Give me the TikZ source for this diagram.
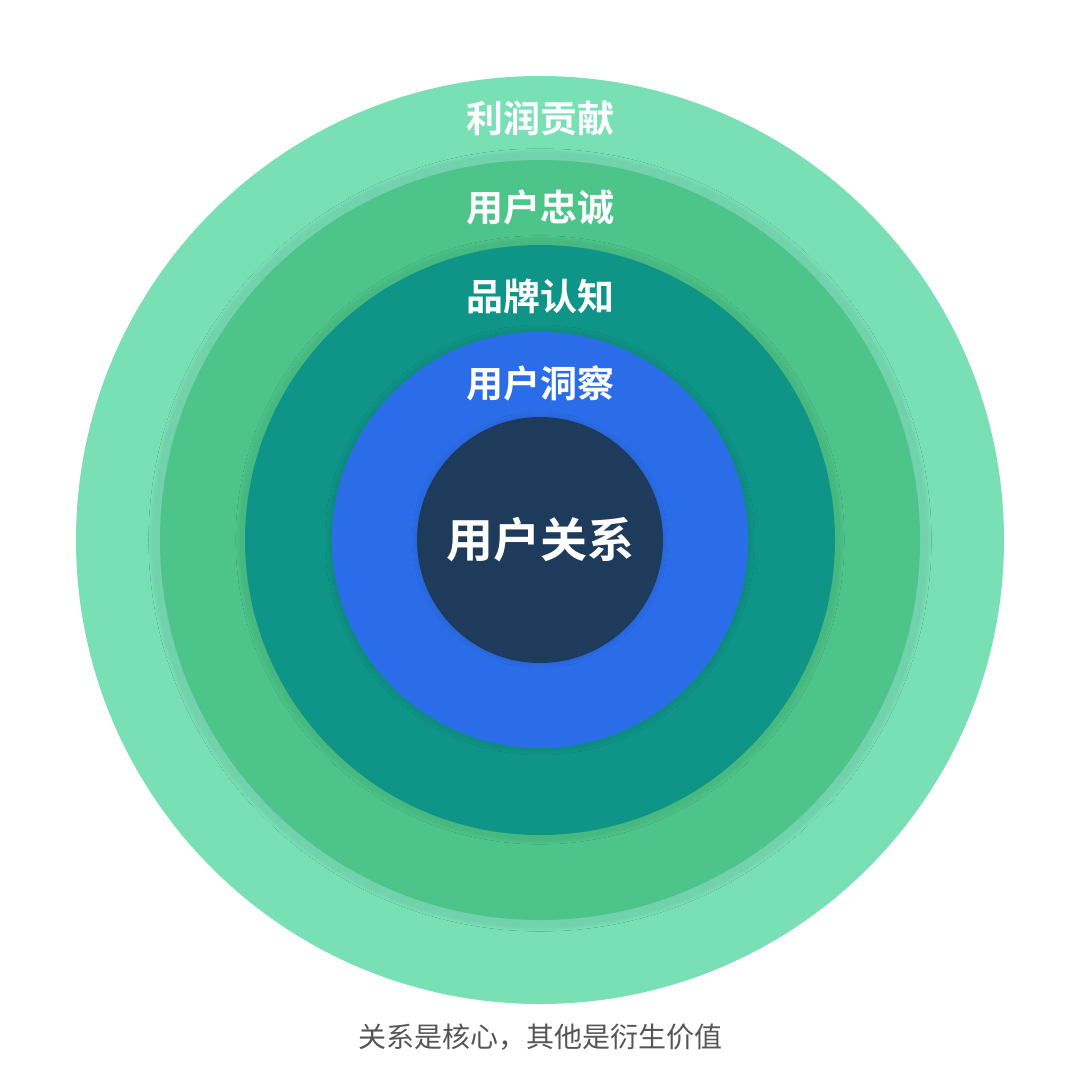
\documentclass[tikz,border=0pt]{standalone}
\usepackage{fontspec}
\newfontfamily\cjk{Noto Sans CJK SC}
\newfontfamily\cjkb{Noto Sans CJK SC Bold}
\usetikzlibrary{shadows.blur}
\definecolor{ringA}{HTML}{79E0B6}
\definecolor{ringB}{HTML}{4DC48A}
\definecolor{ringC}{HTML}{0F9488}
\definecolor{ringD}{HTML}{2B6DE8}
\definecolor{ringE}{HTML}{1F3B5C}
\definecolor{captiongray}{HTML}{555555}
\tikzset{
  ring/.style={circle, inner sep=0pt, draw=none},
  softshadow/.style={blur shadow={shadow xshift=0pt, shadow yshift=0pt, shadow scale=1.025, shadow opacity=6, shadow blur steps=14}},
  ringlabel/.style={text=white, font=\cjkb\fontsize{37}{42}\selectfont, inner sep=0pt},
}
\begin{document}
\begin{tikzpicture}[x=1pt,y=-1pt]
\useasboundingbox[fill=white] (0,0) rectangle (1080,1080);
\node[ring, fill=ringA, minimum size=928pt] (r1) at (540,540) {};
\node[ring, softshadow, fill=ringB, minimum size=760pt] (r2) at (540,540) {};
\node[ring, softshadow, fill=ringC, minimum size=590pt] (r3) at (540,540) {};
\node[ring, softshadow, fill=ringD, minimum size=416pt] (r4) at (540,540) {};
\node[ring, softshadow, fill=ringE, minimum size=246pt] (r5) at (540,540) {};
\node[ringlabel] (t1) at (540,118) {利润贡献};
\node[ringlabel] (t2) at (540,207) {用户忠诚};
\node[ringlabel] (t3) at (540,296) {品牌认知};
\node[ringlabel] (t4) at (540,383) {用户洞察};
\node[ringlabel, font=\cjkb\fontsize{47}{52}\selectfont] (t5) at (540,540) {用户关系};
\node[text=captiongray, font=\cjk\fontsize{28}{32}\selectfont, inner sep=0pt] (cap) at (540,1037) {关系是核心，其他是衍生价值};
\end{tikzpicture}
\end{document}
